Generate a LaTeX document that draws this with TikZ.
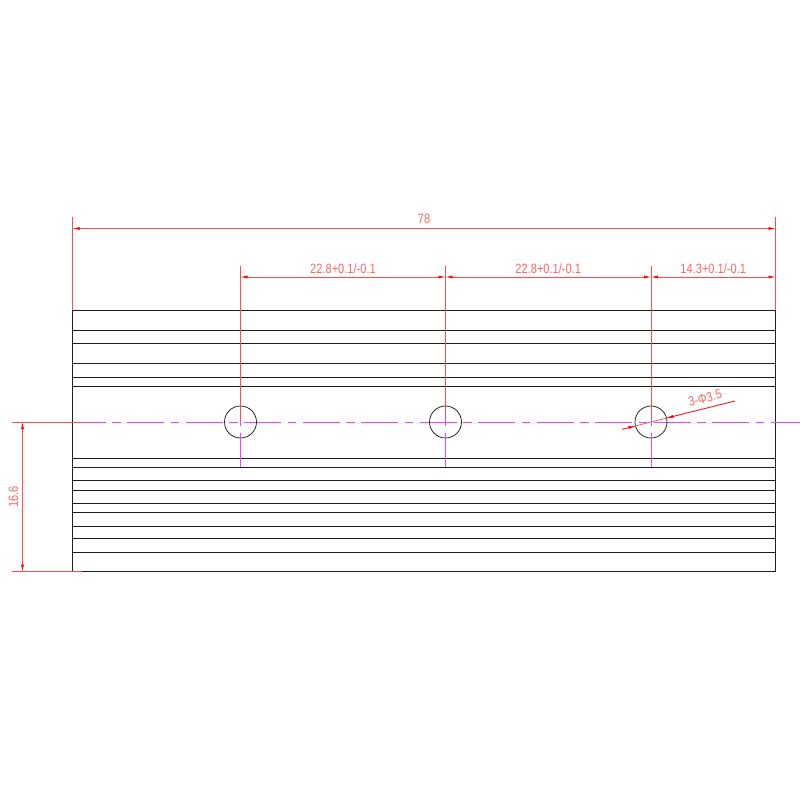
\documentclass[tikz,border=0pt]{standalone}
\usepackage{fontspec}
\newfontfamily\cadfont[FakeStretch=0.82]{Liberation Sans}
\definecolor{cadred}{RGB}{255,0,0}
\definecolor{cadmag}{RGB}{255,60,255}
\definecolor{cadblack}{RGB}{30,30,30}
\tikzset{
  x=1pt,y=-1pt,
  outline/.style={draw=cadblack,line width=0.75pt},
  dimline/.style={draw=cadred!70!white,line width=0.7pt},
  centre/.style={draw=cadmag,line width=0.7pt},
  tipped/.style={dimline,{Latex[length=7pt,width=3pt,red]}-{Latex[length=7pt,width=3pt,red]}},
  dimtext/.style={text=cadred!60!white,font=\cadfont\fontsize{13.5}{14}\selectfont,inner sep=0pt},
}
\usetikzlibrary{arrows.meta}
\begin{document}
\begin{tikzpicture}
\useasboundingbox (0,0) rectangle (800,800);
\fill[white] (0,0) rectangle (800,800);
% part outline
\draw[outline] (72.5,310) rectangle (775.5,571.5);
\foreach \yy in {330.5,343.5,363.5,377,386,458,467,480.5,490,503,512.5,526,538.5,552}
  \draw[outline] (72.5,\yy) -- (775.5,\yy);
% centre line
\draw[centre,dash pattern=on 37pt off 6.3pt on 8.5pt off 6.7pt,dash phase=13.2pt] (82,422) -- (800,422);
% holes
\node[circle,outline,minimum size=32pt,inner sep=0pt] (h1) at (240.5,422) {};
\node[circle,outline,minimum size=32pt,inner sep=0pt] (h2) at (445.5,422) {};
\node[circle,outline,minimum size=32pt,inner sep=0pt] (h3) at (651,422) {};
% vertical centre lines and extension lines
\foreach \xx in {240.5,445.5,651}{
  \draw[dimline] (\xx,266) -- (\xx,419);
  \draw[centre] (\xx,419) -- (\xx,426);
  \draw[centre] (\xx,433) -- (\xx,467);
}
% extension lines
\draw[dimline] (72.5,217) -- (72.5,310);
\draw[dimline] (775.5,217) -- (775.5,310);
\draw[dimline] (12,422) -- (82,422);
\draw[dimline] (12,571.5) -- (82,571.5);
% dimensions
\coordinate (a1) at (72.5,228.5); \coordinate (a2) at (775.5,228.5);
\draw[tipped] (a1) -- node[dimtext,above=5pt,pos=.5] (t78) {78} (a2);
\coordinate (b1) at (240.5,277); \coordinate (b2) at (445.5,277);
\coordinate (b3) at (651,277); \coordinate (b4) at (775.5,277);
\draw[tipped] (b1) -- node[dimtext,above=3.5pt] (t1) {22.8+0.1/-0.1} (b2);
\draw[tipped] (b2) -- node[dimtext,above=3.5pt] (t2) {22.8+0.1/-0.1} (b3);
\draw[tipped] (b3) -- node[dimtext,above=3.5pt] (t3) {14.3+0.1/-0.1} (b4);
\coordinate (c1) at (22.5,422); \coordinate (c2) at (22.5,571.5);
\draw[tipped] (c1) -- (c2);
\node[dimtext,rotate=90] (t4) at (13.5,497) {16.6};
% hole leader
\coordinate (d1) at (622,429.3); \coordinate (d2) at (735,401);
\coordinate (d3) at (635.5,426); \coordinate (d4) at (666.5,418);
\draw[dimline] (d1) -- (d2);
\draw[-{Latex[length=7pt,width=3pt,red]},draw=red,line width=.5pt] (d1) -- (d3);
\draw[-{Latex[length=7pt,width=3pt,red]},draw=red,line width=.5pt] (d2) -- (d4);
\node[dimtext,rotate=14] (t5) at (705,398) {3-Φ3.5};
\end{tikzpicture}
\end{document}
